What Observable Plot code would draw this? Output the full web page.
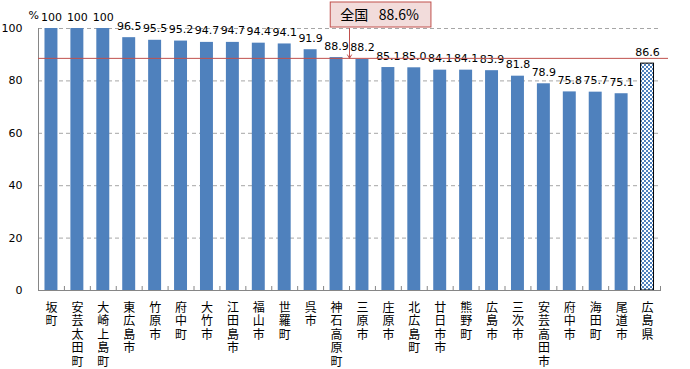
<!DOCTYPE html>
<html><head><meta charset="utf-8">
<script src="https://cdn.jsdelivr.net/npm/d3@7"></script>
<script src="https://cdn.jsdelivr.net/npm/@observablehq/plot@0.6"></script>
<style>body{margin:0;background:#fff}</style>
</head><body><div id="chart"></div>
<script>
const categories = ["坂町","安芸太田町","大崎上島町","東広島市","竹原市","府中町","大竹市","江田島市","福山市","世羅町","呉市","神石高原町","三原市","庄原市","北広島町","廿日市市","熊野町","広島市","三次市","安芸高田市","府中市","海田町","尾道市","広島県"];
const values = [100,100,100,96.5,95.5,95.2,94.7,94.7,94.4,94.1,91.9,88.9,88.2,85.1,85.0,84.1,84.1,83.9,81.8,78.9,75.8,75.7,75.1,86.6];
const yTicks = [0,20,40,60,80,100];
const prefName = "広島県";
const national = 88.6;
const nationalLabel = "全国";
const calloutCat = "神石高原町";

const W = 690, H = 369, ml = 38, mr = 22, ir = 8, mt = 28, mb = 79;
const step = (W - ml - mr - ir) / categories.length;
const data = categories.map((c, i) => ({cat: c, value: values[i]}));
const fmt = v => v === 100 ? "100" : v.toFixed(1);
const font = "'Noto Sans CJK JP', 'Noto Sans', sans-serif";
const numFont = "'DejaVu Sans', sans-serif";
const red = "#C0504D";

const chart = Plot.plot({
  width: W, height: H,
  marginLeft: ml, marginRight: mr, marginTop: mt, marginBottom: mb,
  style: {fontFamily: font, fontSize: "12px", color: "#000", background: "#fff"},
  x: {domain: categories, paddingInner: 0.5, paddingOuter: 0.25, round: false, insetRight: ir, label: null},
  y: {domain: [0, 100], label: null},
  marks: [
    Plot.ruleY(yTicks.filter(d => d > 0), {stroke: "#a6a6a6", strokeDasharray: "4,3", insetRight: ir}),
    Plot.barY(data.filter(d => d.cat !== prefName), {x: "cat", y: "value", fill: "#4F81BD"}),
    Plot.barY(data.filter(d => d.cat === prefName), {x: "cat", y: "value", fill: "url(#checker)", stroke: "#000", strokeWidth: 1}),
    Plot.frame({anchor: "left", stroke: "#868686"}),
    Plot.frame({anchor: "bottom", stroke: "#868686", insetRight: ir}),
    Plot.axisY({ticks: yTicks, tickSize: 0, tickPadding: 16, fontSize: 11, fontFamily: numFont}),
    Plot.axisX({tickSize: 0, tickPadding: 12, tickFormat: d => d.split("").join("\n"), lineHeight: 1.12, fontSize: 12}),
    Plot.axisX({tickSize: 4, tickFormat: () => "", dx: -step / 2, dy: -4, stroke: "#868686"}),
    Plot.axisX({ticks: [prefName], tickSize: 4, tickFormat: () => "", dx: step / 2, dy: -4, stroke: "#868686"}),
    Plot.text(data, {x: "cat", y: "value", text: d => fmt(d.value), lineAnchor: "bottom", dy: -8, fontSize: 11, fontFamily: numFont}),
    Plot.ruleY([national], {stroke: red, strokeWidth: 1}),
    Plot.arrow([{cat: calloutCat, value: national}], {x1: "cat", x2: "cat", y1: () => 100, y2: "value", dx: step / 2, stroke: red, strokeWidth: 1, headLength: 6}),
    Plot.text(["%"], {frameAnchor: "top-left", text: d => d, dx: -10, dy: -13, lineAnchor: "middle", textAnchor: "start", fontSize: 11, fontFamily: numFont}),
    Plot.text([{cat: calloutCat, value: national}], {x: "cat", frameAnchor: "top", text: d => `${nationalLabel}\u2002\u2005${d.value}%`, dx: 43, dy: -13, lineAnchor: "middle", fontSize: 14, className: "callout"})
  ]
});

document.getElementById("chart").appendChild(chart);
const svg = d3.select(chart);
const defs = svg.insert("defs", ":first-child");
const pat = defs.append("pattern").attr("id", "checker").attr("width", 4).attr("height", 4).attr("patternUnits", "userSpaceOnUse");
pat.append("rect").attr("width", 4).attr("height", 4).attr("fill", "#fff");
pat.append("rect").attr("width", 2).attr("height", 2).attr("fill", "#4F81BD");
pat.append("rect").attr("x", 2).attr("y", 2).attr("width", 2).attr("height", 2).attr("fill", "#4F81BD");

const tnode = svg.select("g.callout text").node();
if (tnode) {
  const r = tnode.getBoundingClientRect();
  const s = chart.getBoundingClientRect();
  svg.insert("rect", "g.callout")
    .attr("x", r.left - s.left - 10).attr("y", 2)
    .attr("width", r.width + 22).attr("height", mt - 1 - 2)
    .attr("fill", "#F2DCDB").attr("stroke", red).attr("stroke-width", 1);
}
</script>
</body></html>
